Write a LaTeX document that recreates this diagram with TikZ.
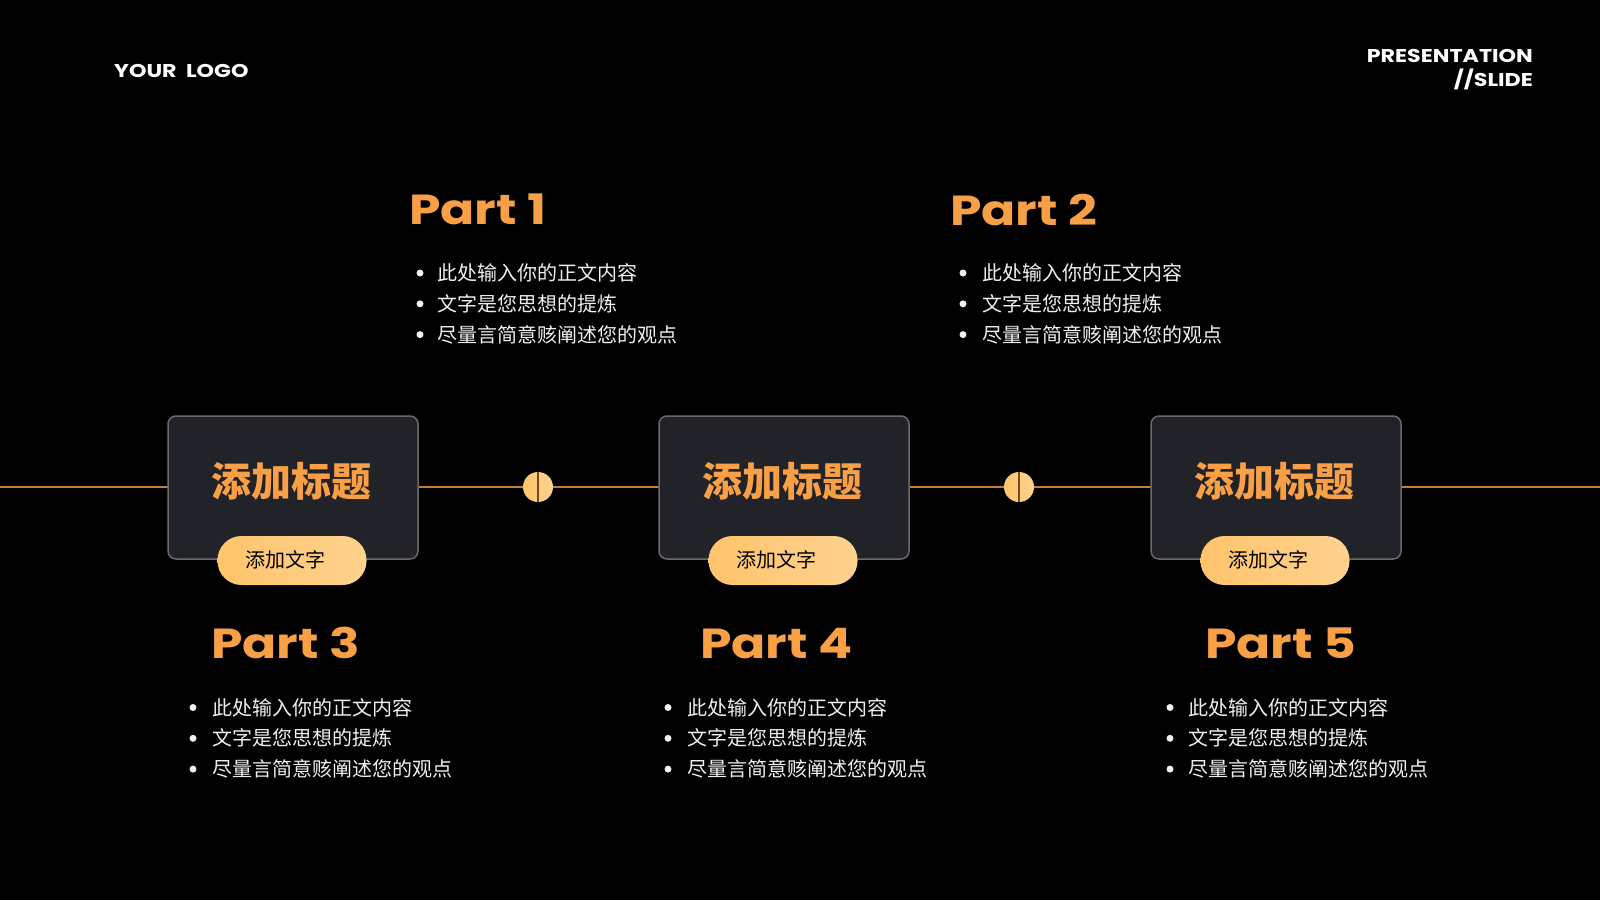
\documentclass[tikz,border=0pt]{standalone}
\usepackage{fontspec}
\setmainfont{Poppins}[FakeStretch=1.2]
\newfontfamily\cjk{Noto Sans CJK SC}
\newfontfamily\cjkhead{Noto Sans CJK SC Black}
\usetikzlibrary{positioning}
\definecolor{partorange}{HTML}{F9A046}
\definecolor{panelgray}{HTML}{212328}
\definecolor{panelborder}{HTML}{6A6A6A}
\definecolor{pillleft}{HTML}{FFC46C}
\definecolor{pillright}{HTML}{FFD28E}
\definecolor{linebrown}{HTML}{C47C3C}
\definecolor{notch}{HTML}{6E4C2C}
\definecolor{bodytext}{HTML}{F0F0F0}

\tikzset{
  panel/.style={draw=panelborder, line width=1.5pt, fill=panelgray, rounded corners=8pt,
    minimum width=250pt, minimum height=143pt, inner sep=0pt},
  headtext/.style={text=partorange, inner sep=0pt, font=\cjkhead\fontsize{40}{40}\selectfont},
  pill/.style={rounded corners=24pt, left color=pillleft, right color=pillright,
    minimum width=149pt, minimum height=49pt, inner sep=0pt},
  pilltext/.style={text=black, inner sep=0pt, font=\cjk\fontsize{20}{20}\selectfont},
  stepdot/.style={circle, inner sep=0pt, minimum size=30pt, left color=pillleft, right color=pillright},
  timeline/.style={draw=linebrown, line width=1.2pt},
  parttitle/.style={text=partorange, inner sep=0pt, anchor=base west,
    font=\bfseries\fontsize{42}{42}\selectfont},
  bulletdot/.style={circle, fill=bodytext, inner sep=0pt, minimum size=7pt},
  bodyline/.style={text=bodytext, inner sep=0pt, anchor=west, font=\cjk\fontsize{20}{20}\selectfont},
  logotext/.style={text=white, inner sep=0pt, font=\bfseries\fontsize{18.5}{18.5}\selectfont}
}

% one list of three lines: name, bullet x, text x, first line y
\newcommand\partlist[4]{%
  \foreach \t [count=\i] in {此处输入你的正文内容, 文字是您思想的提炼, 尽量言简意赅阐述您的观点} {
    \node[bulletdot] (#1-dot\i) at (#2,{#4+30.8*(\i-1)}) {};
    \node[bodyline] (#1-line\i) at (#3,{#4+30.8*(\i-1)}) {\t};
  }%
}

\begin{document}
\begin{tikzpicture}[x=1pt, y=-1pt]
  \fill[black] (0,0) rectangle (1600,900);
  \useasboundingbox (0,0) rectangle (1600,900);

  % header
  \node[logotext, anchor=base west] (logo) at (114,77) {YOUR\ \ LOGO};
  \node[logotext, anchor=base east] (slide-a) at (1533,62) {PRESENTATION};
  \node[logotext, anchor=base east] (slide-b) at (1533,86) {//SLIDE};

  % timeline
  \coordinate (tl-west) at (0,487);
  \coordinate (tl-east) at (1600,487);
  \draw[timeline] (tl-west) -- (tl-east);

  \foreach \n/\x in {1/538, 2/1019} {
    \node[stepdot] (dot\n) at (\x,487) {};
    \draw[notch, line width=1.5pt] (dot\n.north) -- (dot\n.south);
  }

  \foreach \n/\x in {1/293, 2/784, 3/1276} {
    \node[panel] (panel\n) at (\x,487.5) {};
    \node[headtext] (head\n) at (\x-2,481) {添加标题};
    \node[pill] (pill\n) at (\x-1,560.5) {};
    \node[pilltext] (label\n) at (\x-8,560) {添加文字};
  }

  % upper parts
  \node[parttitle] (part1) at (409,224) {Part 1};
  \partlist{p1}{420}{437}{273}
  \node[parttitle] (part2) at (950,225) {Part 2};
  \partlist{p2}{963}{982}{273}

  % lower parts
  \node[parttitle] (part3) at (211,658) {Part 3};
  \partlist{p3}{193}{212}{707.5}
  \node[parttitle] (part4) at (700,658) {Part 4};
  \partlist{p4}{668}{687}{707.5}
  \node[parttitle] (part5) at (1205,658) {Part 5};
  \partlist{p5}{1170}{1188}{707.5}
\end{tikzpicture}
\end{document}
